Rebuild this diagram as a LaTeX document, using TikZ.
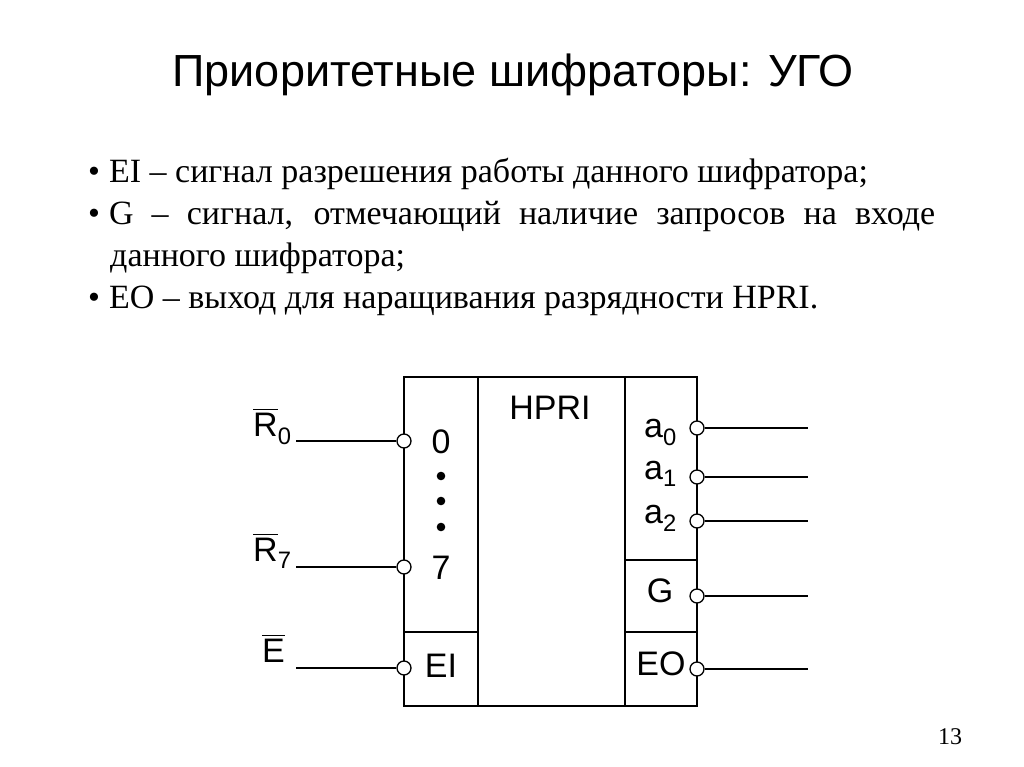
\documentclass[tikz,border=0pt]{standalone}
\usepackage{fontspec}
\setmainfont{Liberation Serif}
\newfontfamily\arial{Liberation Sans}
\newcommand{\nbar}[1]{\vbox{\hrule height 1.6pt \kern 2.5pt \hbox{#1}}}
\begin{document}
\begin{tikzpicture}[x=1pt,y=-1pt,
    pin/.style={circle,draw,fill=white,line width=1.3pt,inner sep=0pt,minimum size=14pt},
    lbl/.style={font=\arial\fontsize{34}{38}\selectfont,inner sep=0pt,anchor=base},
    wire/.style={line width=1.3pt},
    txt/.style={font=\fontsize{34}{40}\selectfont,inner sep=0pt,anchor=base west}]
  \useasboundingbox (0,0) rectangle (1024,767);
  \node[font=\arial\fontsize{45}{50}\selectfont] (title) at (513,75) {Приоритетные шифраторы: УГО};
  \node[txt] (l1) at (88,183) {•\kern 9pt EI – сигнал разрешения работы данного шифратора;};
  \node[txt] (l2) at (88,225) {\makebox[847pt][s]{•\kern 9pt G – сигнал, отмечающий наличие запросов на входе}};
  \node[txt] (l3) at (110,266) {данного шифратора;};
  \node[txt] (l4) at (88,308) {•\kern 9pt EO – выход для наращивания разрядности HPRI.};
  \node[font=\fontsize{24}{28}\selectfont, anchor=base] (pg) at (950,744) {13};
  % the block
  \draw[line width=1.6pt] (404,377) rectangle (697,706);
  \draw[line width=1.6pt] (478,377) -- (478,706) (625,377) -- (625,706)
    (404,632) -- (478,632) (625,560) -- (697,560) (625,632) -- (697,632);
  \node[lbl] (hpri) at (550,419) {HPRI};
  \node[lbl] (n0) at (441,453) {0};
  \foreach \y in {476,501,527} \fill (441,\y) circle (4.3pt);
  \node[lbl] (n7) at (441,579) {7};
  \node[lbl] (ei) at (441,677) {EI};
  \node[lbl,anchor=base west] (la0) at (644,437) {a\textsubscript{0}};
  \node[lbl,anchor=base west] (la1) at (644,479) {a\textsubscript{1}};
  \node[lbl,anchor=base west] (la2) at (644,523) {a\textsubscript{2}};
  \node[lbl] (lg) at (660,602) {G};
  \node[lbl] (leo) at (661,675) {EO};
  % inputs
  \node[lbl,anchor=base west] (r0lbl) at (253,436) {\nbar{R}\textsubscript{0}};
  \node[lbl,anchor=base west] (r7lbl) at (253,561) {\nbar{R}\textsubscript{7}};
  \node[lbl,anchor=base west] (elbl) at (262,662) {\nbar{E}};
  \coordinate (r0in) at (296,441);
  \coordinate (r7in) at (296,567);
  \coordinate (ein) at (296,668);
  \node[pin] (r0) at (404,441) {};
  \node[pin] (r7) at (404,567) {};
  \node[pin] (e) at (404,668) {};
  \draw[wire] (r0in) -- (r0) (r7in) -- (r7) (ein) -- (e);
  % outputs
  \node[pin] (a0) at (697,428) {};
  \node[pin] (a1) at (697,477) {};
  \node[pin] (a2) at (697,521) {};
  \node[pin] (g) at (697,596) {};
  \node[pin] (eo) at (697,669) {};
  \foreach \p/\y in {a0/428,a1/477,a2/521,g/596,eo/669}
    \draw[wire] (\p) -- (808,\y) coordinate (\p out);
\end{tikzpicture}
\end{document}
